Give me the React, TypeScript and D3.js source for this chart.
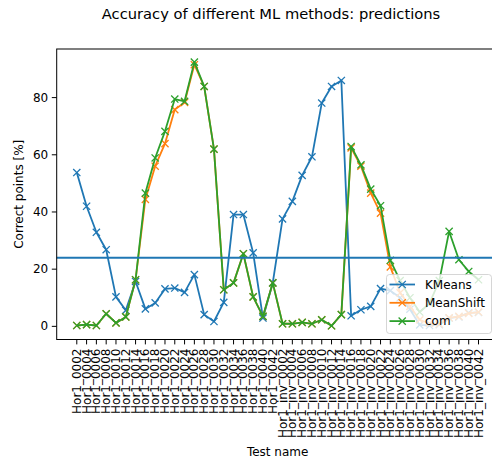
import React from 'react';
import * as d3 from 'd3';

// Test cases on the x axis
const testNames = [
  'Hor1_0002', 'Hor1_0004', 'Hor1_0006', 'Hor1_0008', 'Hor1_0010', 'Hor1_0012', 'Hor1_0014',
  'Hor1_0016', 'Hor1_0018', 'Hor1_0020', 'Hor1_0022', 'Hor1_0024', 'Hor1_0026', 'Hor1_0028',
  'Hor1_0030', 'Hor1_0032', 'Hor1_0034', 'Hor1_0036', 'Hor1_0038', 'Hor1_0040', 'Hor1_0042',
  'Hor1_inv_0002', 'Hor1_inv_0004', 'Hor1_inv_0006', 'Hor1_inv_0008', 'Hor1_inv_0010',
  'Hor1_inv_0012', 'Hor1_inv_0014', 'Hor1_inv_0016', 'Hor1_inv_0018', 'Hor1_inv_0020',
  'Hor1_inv_0022', 'Hor1_inv_0024', 'Hor1_inv_0026', 'Hor1_inv_0028', 'Hor1_inv_0030',
  'Hor1_inv_0032', 'Hor1_inv_0034', 'Hor1_inv_0036', 'Hor1_inv_0038', 'Hor1_inv_0040',
  'Hor1_inv_0042',
];

// Correct points [%] per method
const kmeans = [
  53.8, 42.0, 32.9, 26.8, 10.3, 5.6, 15.7, 6.1, 8.2, 13.1, 13.4, 11.9, 18.1, 4.1, 1.7,
  8.4, 39.1, 39.1, 25.7, 2.9, 15.2, 37.6, 43.7, 52.8, 59.3, 78.1, 83.9, 86.0, 3.7, 5.8,
  7.0, 13.2, 12.5, 10.0, 6.0, 0.5, 0.3, 0.6, 2.9, 3.3, 4.7, 4.9,
];
const meanShift = [
  0.3, 0.6, 0.3, 4.4, 1.2, 3.3, 16.3, 44.4, 56.0, 63.9, 75.8, 78.3, 91.5, 83.9, 62.0,
  12.8, 15.2, 25.4, 10.3, 3.5, 15.2, 0.9, 0.9, 1.4, 0.9, 2.3, 0.2, 4.1, 62.4, 56.0,
  46.6, 39.6, 20.8, 11.7, 7.0, 2.3, 1.0, 0.8, 3.0, 3.5, 4.5, 5.0,
];
const com = [
  0.3, 0.6, 0.3, 4.4, 1.2, 3.3, 16.3, 46.6, 58.9, 68.2, 79.5, 78.7, 92.4, 83.9, 62.0,
  12.8, 15.2, 25.4, 10.3, 3.5, 15.2, 0.9, 0.9, 1.4, 0.9, 2.3, 0.2, 4.1, 62.9, 56.5,
  48.0, 42.2, 23.1, 16.0, 10.0, 5.0, 8.0, 16.0, 33.2, 23.3, 19.2, 16.3,
];
const threshold = 24;

const seriesNames = ['KMeans', 'MeanShift', 'com'];
const seriesColors = ['#1f77b4', '#ff7f0e', '#2ca02c'];
const yTicks = [0, 20, 40, 60, 80];

const W = 492;
const H = 462;
const left = 56.7;
const right = 498.6;
const top = 49;
const bottom = 339.5;
const font = 'DejaVu Sans, sans-serif';

function Marker({ x, y, color }: { x: number; y: number; color: string }) {
  const s = 3.6;
  return (
    <path
      d={`M${x - s},${y - s}L${x + s},${y + s}M${x - s},${y + s}L${x + s},${y - s}`}
      stroke={color}
      strokeWidth={1.3}
      fill="none"
    />
  );
}

export default function App() {
  const x = d3.scaleLinear().domain([-2.05, testNames.length - 1 + 2.05]).range([left, right]);
  const y = d3.scaleLinear().domain([-4.6, 97]).range([bottom, top]);
  const line = d3
    .line<number>()
    .x((_, i) => x(i))
    .y((d) => y(d));
  const allSeries = [kmeans, meanShift, com];

  return (
    <svg
      width={W}
      height={H}
      style={{ position: 'absolute', left: 0, top: 0, background: '#fff' }}
      fontFamily={font}
    >
      <rect x={0} y={0} width={W} height={H} fill="#fff" />
      <text x={271} y={19} textAnchor="middle" fontSize={14.7} fill="#000">
        Accuracy of different ML methods: predictions
      </text>

      {/* data series */}
      {allSeries.map((s, k) => (
        <g key={seriesNames[k]}>
          <path d={line(s) || ''} fill="none" stroke={seriesColors[k]} strokeWidth={1.8} strokeLinejoin="round" />
          {s.map((v, i) => (
            <Marker key={i} x={x(i)} y={y(v)} color={seriesColors[k]} />
          ))}
        </g>
      ))}

      {/* threshold line */}
      <line x1={left} x2={right} y1={y(threshold)} y2={y(threshold)} stroke="#1f77b4" strokeWidth={1.8} />

      {/* axes frame */}
      <rect x={left} y={top} width={right - left} height={bottom - top} fill="none" stroke="#000" strokeWidth={1} />

      {/* y axis */}
      {yTicks.map((t) => (
        <g key={t}>
          <line x1={left - 4.9} x2={left} y1={y(t)} y2={y(t)} stroke="#000" strokeWidth={1} />
          <text x={left - 8.5} y={y(t)} textAnchor="end" dominantBaseline="central" fontSize={12} fill="#000">
            {t}
          </text>
        </g>
      ))}
      <text
        transform={`translate(19,${(top + bottom) / 2}) rotate(-90)`}
        textAnchor="middle"
        dominantBaseline="central"
        fontSize={12}
        fill="#000"
      >
        Correct points [%]
      </text>

      {/* x axis */}
      {testNames.map((n, i) => (
        <g key={n}>
          <line x1={x(i)} x2={x(i)} y1={bottom} y2={bottom + 4.9} stroke="#000" strokeWidth={1} />
          <text
            transform={`translate(${x(i)},${bottom + 9}) rotate(-90)`}
            textAnchor="end"
            dominantBaseline="central"
            fontSize={12}
            fill="#000"
          >
            {n}
          </text>
        </g>
      ))}
      <text x={(left + right) / 2} y={456} textAnchor="middle" fontSize={12} fill="#000">
        Test name
      </text>

      {/* legend */}
      <g>
        <rect
          x={386.5}
          y={274.5}
          width={105}
          height={59}
          rx={3}
          fill="#fff"
          fillOpacity={0.8}
          stroke="#ccc"
          strokeOpacity={0.8}
          strokeWidth={1}
        />
        {seriesNames.map((n, k) => {
          const ly = 284.5 + k * 18.3;
          return (
            <g key={n}>
              <line x1={389.5} x2={415} y1={ly} y2={ly} stroke={seriesColors[k]} strokeWidth={1.8} />
              <Marker x={402.2} y={ly} color={seriesColors[k]} />
              <text x={425} y={ly} dominantBaseline="central" fontSize={12} fill="#000">
                {n}
              </text>
            </g>
          );
        })}
      </g>
    </svg>
  );
}
